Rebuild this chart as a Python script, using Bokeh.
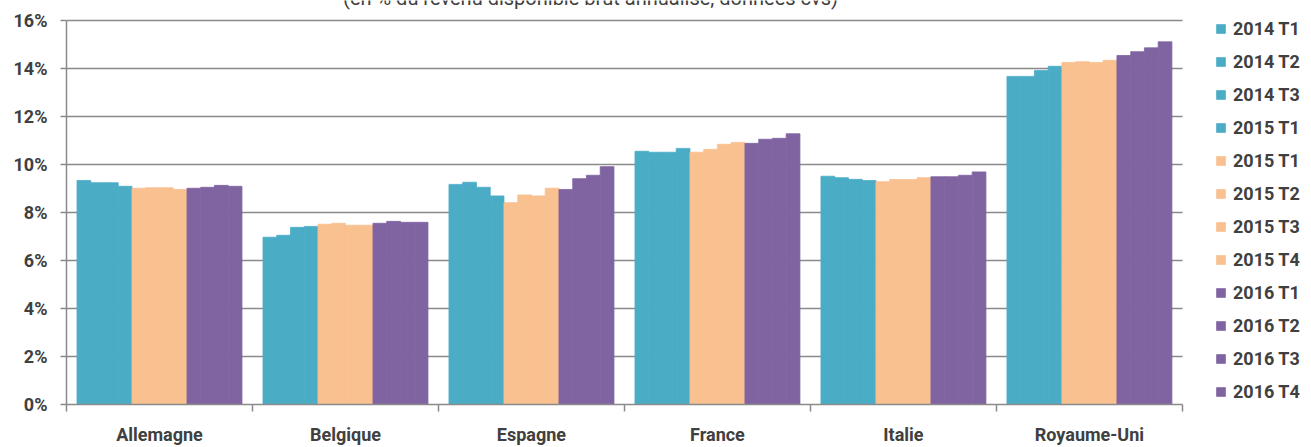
import numpy as np
from bokeh.plotting import figure
from bokeh.models import (Range1d, FixedTicker, PrintfTickFormatter, Legend,
                          LegendItem, Label)
from bokeh.embed import file_html
from bokeh.resources import INLINE

# Pays et trimestres
countries = ["Allemagne", "Belgique", "Espagne", "France", "Italie", "Royaume-Uni"]
series_labels = ["2014 T1", "2014 T2", "2014 T3", "2015 T1",
                 "2015 T1", "2015 T2", "2015 T3", "2015 T4",
                 "2016 T1", "2016 T2", "2016 T3", "2016 T4"]
series_colors = ["#4BACC6"] * 4 + ["#F9C090"] * 4 + ["#8064A2"] * 4

# Taux d'épargne des ménages, en % du RDB, un point par trimestre
allemagne = [9.33, 9.24, 9.24, 9.09, 9.01, 9.03, 9.03, 8.96, 9.01, 9.05, 9.13, 9.09]
belgique = [6.97, 7.05, 7.38, 7.42, 7.51, 7.55, 7.47, 7.47, 7.55, 7.63, 7.59, 7.59]
espagne = [9.17, 9.26, 9.05, 8.69, 8.41, 8.73, 8.69, 9.01, 8.96, 9.41, 9.55, 9.91]
france = [10.55, 10.51, 10.51, 10.67, 10.51, 10.63, 10.84, 10.92, 10.88, 11.05, 11.09, 11.28]
italie = [9.51, 9.45, 9.38, 9.33, 9.28, 9.37, 9.37, 9.45, 9.49, 9.49, 9.55, 9.69]
royaume_uni = [13.67, 13.67, 13.92, 14.09, 14.25, 14.28, 14.25, 14.34, 14.54, 14.70, 14.86, 15.11]

y_ticks = [0, 2, 4, 6, 8, 10, 12, 14, 16]
subtitle = "(en % du revenu disponible brut annualisé, données cvs)"

values = np.array([allemagne, belgique, espagne, france, italie, royaume_uni])
n_cat = len(countries)

TEXT = "#404040"
AXIS = "#8a8a8a"
FONT = "Roboto"

# Le cadre couvre toute la page en haut et à droite : axes et grille
# sont bornés à la zone des données, le reste accueille sous-titre et légende.
X_MAX = 6.694
Y_MAX = 16.832

p = figure(width=1311, height=447, output_backend="svg", toolbar_location=None,
           x_range=Range1d(0, X_MAX), y_range=Range1d(0, Y_MAX),
           min_border_left=66, min_border_right=0, min_border_top=0,
           min_border_bottom=42)
p.outline_line_color = None
p.background_fill_color = "white"
p.border_fill_color = "white"

# 12 barres accolées par pays
group = 0.887
bw = group / len(series_labels)
start = (1 - group) / 2
idx = np.arange(n_cat)
renderers = []
for j, (lab, col) in enumerate(zip(series_labels, series_colors)):
    r = p.vbar(x=idx + start + (j + 0.5) * bw, top=values[:, j], bottom=0,
               width=bw, fill_color=col, line_color=col, line_width=0.8)
    renderers.append(r)

# Axe vertical
p.yaxis.bounds = (y_ticks[0], y_ticks[-1])
p.yaxis.ticker = FixedTicker(ticks=y_ticks, minor_ticks=[])
p.yaxis.formatter = PrintfTickFormatter(format="%d%%")
p.yaxis.axis_line_color = AXIS
p.yaxis.axis_line_width = 1.5
p.yaxis.major_tick_line_color = AXIS
p.yaxis.major_tick_line_width = 1.5
p.yaxis.major_tick_out = 6
p.yaxis.major_tick_in = 0
p.yaxis.major_label_standoff = 13
p.yaxis.major_label_text_font = FONT
p.yaxis.major_label_text_font_style = "bold"
p.yaxis.major_label_text_font_size = "18px"
p.yaxis.major_label_text_color = TEXT

# Axe horizontal : libellés au centre des groupes, graduations entre groupes
centers = [i + 0.5 for i in range(n_cat)]
p.xaxis.bounds = (0, n_cat)
p.xaxis.ticker = FixedTicker(ticks=centers, minor_ticks=list(range(n_cat + 1)))
p.xaxis.major_label_overrides = {c: name for c, name in zip(centers, countries)}
p.xaxis.axis_line_color = AXIS
p.xaxis.axis_line_width = 1.5
p.xaxis.major_tick_line_color = None
p.xaxis.major_tick_out = 0
p.xaxis.major_tick_in = 0
p.xaxis.minor_tick_line_color = AXIS
p.xaxis.minor_tick_line_width = 1.5
p.xaxis.minor_tick_out = 7
p.xaxis.minor_tick_in = 0
p.xaxis.major_label_standoff = 12
p.xaxis.major_label_text_font = FONT
p.xaxis.major_label_text_font_style = "bold"
p.xaxis.major_label_text_font_size = "18px"
p.xaxis.major_label_text_color = TEXT

p.xgrid.visible = False
p.ygrid.cross_bounds = (0, n_cat)
p.ygrid.grid_line_color = AXIS
p.ygrid.grid_line_width = 1.3

# Légende à droite de la zone des données
items = [LegendItem(label=lab, renderers=[r]) for lab, r in zip(series_labels, renderers)]
legend = Legend(items=items, location=(1149, 2), orientation="vertical",
                glyph_width=11, glyph_height=11, label_height=21, spacing=12,
                label_standoff=7, padding=0, margin=0,
                border_line_color=None, background_fill_alpha=0,
                label_text_font=FONT, label_text_font_style="bold",
                label_text_font_size="18px", label_text_color=TEXT)
p.add_layout(legend, "center")

# Sous-titre, dont seul le bas des lettres tient dans la page
p.add_layout(Label(x=524, y=407, x_units="screen", y_units="screen",
                   text=subtitle, text_align="center", text_baseline="alphabetic",
                   text_font=FONT, text_font_size="20px", text_color=TEXT))

open("out.html", "w").write(file_html(p, INLINE))
